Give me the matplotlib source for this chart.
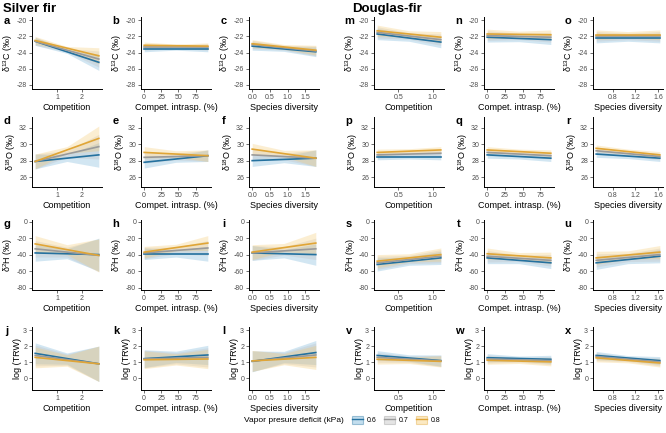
import numpy as np
import matplotlib.pyplot as plt
from matplotlib.patches import Patch
from matplotlib.lines import Line2D

plt.rcParams['font.family'] = ['Liberation Sans', 'DejaVu Sans']
plt.rcParams['mathtext.fontset'] = 'custom'
plt.rcParams['mathtext.rm'] = 'Liberation Sans'
plt.rcParams['mathtext.it'] = 'Liberation Sans:italic'
plt.rcParams['axes.unicode_minus'] = False

# VPD levels (kPa)
vpd_levels = ['0.6', '0.7', '0.8']
line_cols = ['#24719F', '#9A9A9A', '#E0A536']
fill_cols = ['#6BAED6', '#BDBDBD', '#F5C86B']

# columns: Silver fir (a,b,c) then Douglas-fir (m,n,o)
x_labels = ['Competition', 'Compet. intrasp. (%)', 'Species diversity'] * 2
x_data = [(0.12, 2.68), (0, 93), (0, 1.8), (0.19, 1.12), (0, 90), (0.51, 1.63)]
x_ticks = [[1, 2], [0, 25, 50, 75], [0.0, 0.5, 1.0, 1.5],
           [0.5, 1.0], [0, 25, 50, 75], [0.8, 1.2, 1.6]]
x_ticklabels = [['1', '2'], ['0', '25', '50', '75'], ['0.0', '0.5', '1.0', '1.5'],
                ['0.5', '1.0'], ['0', '25', '50', '75'], ['0.8', '1.2', '1.6']]

# rows
y_labels = ['δ$^{13}$C (‰)', 'δ$^{18}$O (‰)', 'δ$^{2}$H (‰)', 'log (TRW)']
y_lims = [(-28.5, -19.6), (24.8, 33.3), (-83, 2), (-0.73, 3.19)]
y_ticks = [[-28, -26, -24, -22, -20], [26, 28, 30, 32], [-80, -60, -40, -20, 0], [0, 1, 2, 3]]
letters = [['a', 'b', 'c', 'm', 'n', 'o'],
           ['d', 'e', 'f', 'p', 'q', 'r'],
           ['g', 'h', 'i', 's', 't', 'u'],
           ['j', 'k', 'l', 'v', 'w', 'x']]

# fitted line (start, end) for VPD 0.6 / 0.7 / 0.8, per panel
d13c_lines = [[[-22.6, -25.2], [-22.6, -24.8], [-22.5, -24.4]],
              [[-23.5, -23.5], [-23.3, -23.3], [-23.1, -23.2]],
              [[-23.2, -23.9], [-23.0, -23.8], [-22.9, -23.7]],
              [[-21.7, -22.7], [-21.5, -22.4], [-21.3, -22.1]],
              [[-22.1, -22.4], [-21.9, -22.1], [-21.7, -21.8]],
              [[-22.2, -22.2], [-22.0, -22.0], [-21.8, -21.8]]]
d18o_lines = [[[27.9, 28.7], [27.9, 29.7], [27.9, 30.7]],
              [[27.8, 28.6], [28.4, 28.6], [29.0, 28.6]],
              [[28.0, 28.3], [28.7, 28.3], [29.4, 28.3]],
              [[28.5, 28.5], [28.7, 28.9], [29.0, 29.3]],
              [[28.7, 28.3], [29.0, 28.6], [29.3, 28.9]],
              [[28.8, 28.3], [29.2, 28.5], [29.5, 28.7]]]
d2h_lines = [[[-38, -40], [-33, -41], [-27, -41]],
             [[-39, -39], [-38, -32], [-37, -26]],
             [[-38, -40], [-38, -33], [-37, -26]],
             [[-52, -44], [-50, -42], [-48, -40]],
             [[-44, -50], [-42, -47], [-39, -44]],
             [[-50, -42], [-47, -40], [-44, -37]]]
trw_lines = [[[1.55, 0.90], [1.42, 0.90], [1.30, 0.90]],
             [[1.22, 1.45], [1.20, 1.30], [1.15, 1.20]],
             [[1.05, 1.60], [1.07, 1.45], [1.08, 1.30]],
             [[1.42, 1.10], [1.30, 1.08], [1.18, 1.05]],
             [[1.28, 1.18], [1.20, 1.10], [1.12, 1.02]],
             [[1.42, 1.10], [1.35, 1.02], [1.27, 0.95]]]

# confidence band half width at start / middle / end, per panel
d13c_ci = [[0.5, 0.2, 1.0], [0.4, 0.2, 0.4], [0.5, 0.3, 0.6],
           [0.7, 0.4, 0.7], [0.6, 0.4, 0.6], [0.6, 0.4, 0.6]]
d18o_ci = [[0.9, 0.4, 1.5], [0.7, 0.4, 0.7], [0.7, 0.4, 1.0],
           [0.4, 0.3, 0.4], [0.4, 0.3, 0.4], [0.4, 0.3, 0.4]]
d2h_ci = [[10, 6, 20], [7, 4, 9], [9, 5, 13],
          [8, 5, 8], [7, 4, 7], [8, 5, 8]]
trw_ci = [[0.65, 0.35, 1.1], [0.55, 0.35, 0.6], [0.65, 0.35, 0.75],
          [0.3, 0.2, 0.35], [0.25, 0.15, 0.25], [0.25, 0.15, 0.25]]

all_lines = [d13c_lines, d18o_lines, d2h_lines, trw_lines]
all_ci = [d13c_ci, d18o_ci, d2h_ci, trw_ci]

W, H = 666, 433
fig = plt.figure(figsize=(W / 100, H / 100), dpi=100)

col_left = [32, 141, 249, 374, 484, 593]
col_w = 70
row_top = [17, 117, 220, 327]
row_h = [72, 70, 70, 63]

for r in range(4):
    for c in range(6):
        ax = fig.add_axes([col_left[c] / W, 1 - (row_top[r] + row_h[r]) / H,
                           col_w / W, row_h[r] / H])
        x0, x1 = x_data[c]
        xs = np.array([x0, (x0 + x1) / 2, x1])
        hw = np.array(all_ci[r][c])
        for k in range(3):
            y0, y1 = all_lines[r][c][k]
            ys = np.array([y0, (y0 + y1) / 2, y1])
            ax.fill_between(xs, ys - hw, ys + hw, color=fill_cols[k], alpha=0.3, lw=0)
        for k in range(3):
            ax.plot([x0, x1], all_lines[r][c][k], color=line_cols[k], lw=1.2)
        pad = 0.05 * (x1 - x0)
        ax.set_xlim(x0 - pad, x1 + pad)
        ax.set_ylim(*y_lims[r])
        ax.set_xticks(x_ticks[c])
        ax.set_xticklabels(x_ticklabels[c])
        ax.set_yticks(y_ticks[r])
        ax.set_xlabel(x_labels[c], fontsize=6.5, labelpad=1.5)
        ax.set_ylabel(y_labels[r], fontsize=6.5, labelpad=1)
        for s in ['top', 'right']:
            ax.spines[s].set_visible(False)
        for s in ['left', 'bottom']:
            ax.spines[s].set_linewidth(0.7)
        ax.tick_params(labelsize=5, labelcolor='#4D4D4D', length=2, width=0.5,
                       color='#333333', pad=1.5)
        fig.text((col_left[c] - 25) / W, 1 - (row_top[r] + 4) / H, letters[r][c],
                 fontsize=8, fontweight='bold', va='center', ha='center')

fig.text(3 / W, 1 - 9 / H, 'Silver fir', fontsize=9.5, fontweight='bold', va='center')
fig.text(352 / W, 1 - 9 / H, 'Douglas-fir', fontsize=9.5, fontweight='bold', va='center')

# legend
fig.text(344 / W, 1 - 420 / H, 'Vapor presure deficit (kPa)', fontsize=6, ha='right', va='center')
handles = [(Patch(facecolor=fill_cols[k], alpha=0.4, edgecolor=line_cols[k], lw=0.8),
            Line2D([], [], color=line_cols[k], lw=1)) for k in range(3)]
fig.legend(handles, vpd_levels, loc='center left', bbox_to_anchor=(349 / W, 1 - 420 / H),
           ncol=3, frameon=False, fontsize=5, handlelength=1.5, handleheight=1.5,
           columnspacing=1.2, handletextpad=0.5, borderpad=0)

fig.savefig('out.png', dpi=100)
